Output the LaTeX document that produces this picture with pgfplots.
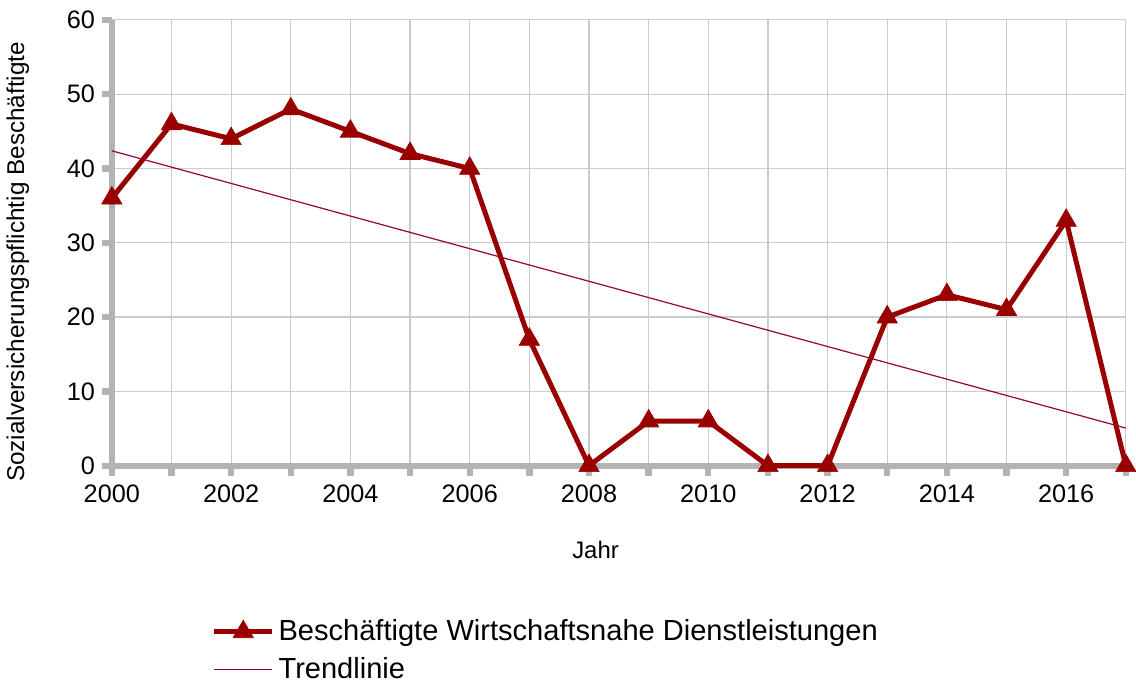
\documentclass[border=0pt]{standalone}
\usepackage{fontspec}
\setmainfont{Liberation Sans}
\usepackage{pgfplots}
\pgfplotsset{compat=1.18}
\definecolor{datared}{HTML}{990000}
\definecolor{trendred}{HTML}{990033}
\definecolor{axisgray}{HTML}{B3B3B3}
\definecolor{gridgray}{HTML}{CCCCCC}
\begin{document}
\begin{tikzpicture}
\begin{axis}[
    scale only axis,
    width=509.5pt,
    height=224pt,
    xmin=2000, xmax=2017,
    ymin=0, ymax=60,
    xtick={2000,2002,...,2016},
    minor xtick={2001,2003,...,2017},
    ytick={0,10,...,60},
    xticklabel style={/pgf/number format/1000 sep={}, yshift=-1pt},
    /pgf/number format/assume math mode=true,
    tick label style={font=\fontsize{12.7}{14}\selectfont, black},
    axis x line*=bottom,
    axis y line*=left,
    axis line style={axisgray, line width=3.2pt, -},
    xmajorgrids, xminorgrids, ymajorgrids,
    grid style={gridgray, line width=0.6pt},
    minor grid style={gridgray, line width=0.6pt},
    tick align=outside,
    major tick length=5pt,
    minor tick length=5pt,
    tick style={axisgray, line width=3.2pt},
    minor tick style={axisgray, line width=3.2pt},
    xlabel={Jahr},
    ylabel={Sozialversicherungspflichtig Beschäftigte},
    xlabel style={font=\fontsize{12}{14}\selectfont,
        at={(axis description cs:0.477,-0.188)}, anchor=center},
    ylabel style={font=\fontsize{12.2}{14}\selectfont,
        at={(axis description cs:-0.0745,0.457)}, anchor=south},
    clip=false,
    legend style={at={(axis description cs:0.429,-0.327)}, anchor=north,
        draw=none, fill=none,
        font=\fontsize{14.6}{17}\selectfont, legend cell align=left,
        row sep=3pt},
    legend image code/.code={
        \draw[mark repeat=2, mark phase=2, #1]
            plot coordinates {(0pt,0pt) (14.5pt,0pt) (29pt,0pt)};
    },
]
\addplot[datared, line width=2.5pt, mark=triangle*, mark size=5.9pt,
    mark options={solid, line width=0.3pt}] coordinates {
    (2000,36) (2001,46) (2002,44) (2003,48) (2004,45) (2005,42)
    (2006,40) (2007,17) (2008,0) (2009,6) (2010,6) (2011,0)
    (2012,0) (2013,20) (2014,23) (2015,21) (2016,33) (2017,0)
};
\addlegendentry{Beschäftigte Wirtschaftsnahe Dienstleistungen}
\addplot[trendred, line width=0.6pt] coordinates {
    (2000,42.38) (2017,5.06)
};
\addlegendentry{Trendlinie}
\end{axis}
\path ([yshift=10pt]current axis.north);
\end{tikzpicture}
\end{document}
